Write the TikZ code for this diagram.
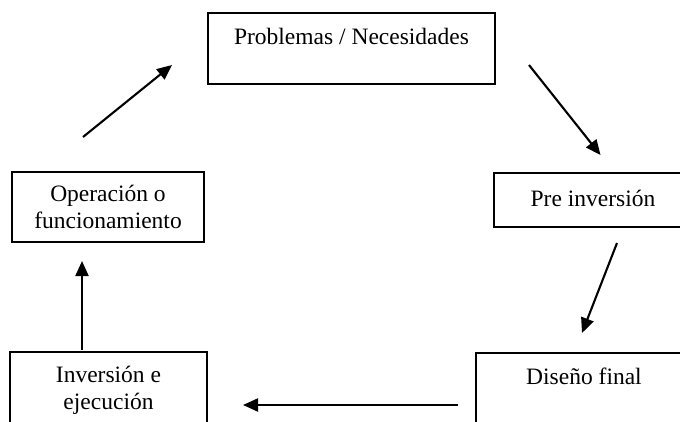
\documentclass[tikz,border=0pt]{standalone}
\usepackage{fontspec}
\setmainfont{Liberation Serif}
\usetikzlibrary{arrows.meta}
\begin{document}
\begin{tikzpicture}[
  x=1pt, y=-1pt,
  block/.style={rectangle, draw, line width=2pt, inner sep=0pt, align=center, font=\fontsize{23.5}{27}\selectfont},
  flow/.style={-{Triangle[length=15pt,width=13pt]}, line width=2.1pt}
]
\useasboundingbox (0,0) rectangle (680,421);
\clip (0,0) rectangle (680,421);

\node[block, anchor=north west, minimum width=287pt, text height=31pt, text depth=40pt] (prob) at (207,12) {Problemas / Necesidades};
\node[block, anchor=north west, minimum width=198pt, text height=33pt, text depth=21pt] (preinv) at (493,172) {Pre inversión};
\node[block, anchor=north west, minimum width=216pt, text height=31pt, text depth=40pt] (diseno) at (475,352) {Diseño final};
\node[block, minimum width=197pt, minimum height=77pt, anchor=north] (inv) at (108.5,351) {Inversión e\\ejecución};
\node[block, minimum width=192pt, minimum height=70pt] (oper) at (108,207) {Operación o\\funcionamiento};

% free ends of the arrows
\coordinate (operout) at (83,137);
\coordinate (probin) at (172,65);
\coordinate (probout) at (529,65);
\coordinate (preinvin) at (600.5,155);
\coordinate (preinvout) at (617,243);
\coordinate (disenoin) at (582,333);
\coordinate (disenoout) at (458,405);
\coordinate (invin) at (243,405);
\coordinate (invout) at (82,350);
\coordinate (operin) at (82,261);

\draw[flow] (operout) -- (probin);
\draw[flow] (probout) -- (preinvin);
\draw[flow] (preinvout) -- (disenoin);
\draw[flow] (disenoout) -- (invin);
\draw[flow] (invout) -- (operin);
\end{tikzpicture}
\end{document}
